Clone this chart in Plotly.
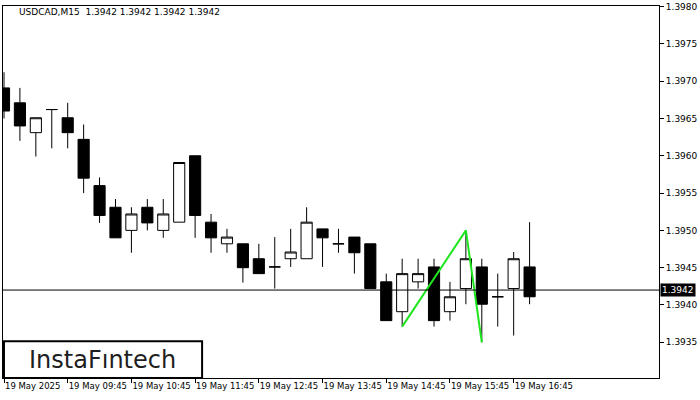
import plotly.graph_objects as go

# ---- data ----
times = ["08:45", "09:00", "09:15", "09:30", "09:45", "10:00", "10:15", "10:30", "10:45",
         "11:00", "11:15", "11:30", "11:45", "12:00", "12:15", "12:30", "12:45",
         "13:00", "13:15", "13:30", "13:45", "14:00", "14:15", "14:30", "14:45",
         "15:00", "15:15", "15:30", "15:45", "16:00", "16:15", "16:30", "16:45", "17:00"]
opens = [1.39691, 1.39671, 1.39631, 1.39662, 1.39651, 1.39622, 1.39560, 1.39531, 1.39500,
         1.39531, 1.39500, 1.39511, 1.39600, 1.39511, 1.39482, 1.39482, 1.39462,
         1.39451, 1.39462, 1.39462, 1.39502, 1.39482, 1.39491, 1.39482, 1.39431,
         1.39391, 1.39431, 1.39451, 1.39391, 1.39422, 1.39451, 1.39411, 1.39422, 1.39451]
highs = [1.39712, 1.39691, 1.39651, 1.39662, 1.39671, 1.39642, 1.39571, 1.39542, 1.39531,
         1.39542, 1.39542, 1.39591, 1.39600, 1.39522, 1.39502, 1.39482, 1.39482,
         1.39491, 1.39502, 1.39531, 1.39502, 1.39502, 1.39491, 1.39482, 1.39442,
         1.39462, 1.39462, 1.39462, 1.39431, 1.39500, 1.39462, 1.39442, 1.39471, 1.39511]
lows = [1.39650, 1.39620, 1.39599, 1.39610, 1.39610, 1.39550, 1.39510, 1.39490, 1.39470,
        1.39500, 1.39490, 1.39511, 1.39490, 1.39470, 1.39470, 1.39430, 1.39442,
        1.39422, 1.39451, 1.39462, 1.39451, 1.39470, 1.39442, 1.39422, 1.39379,
        1.39371, 1.39422, 1.39371, 1.39379, 1.39401, 1.39350, 1.39371, 1.39359, 1.39401]
closes = [1.39660, 1.39640, 1.39651, 1.39662, 1.39631, 1.39570, 1.39520, 1.39490, 1.39522,
          1.39510, 1.39522, 1.39591, 1.39520, 1.39490, 1.39491, 1.39450, 1.39442,
          1.39451, 1.39471, 1.39511, 1.39490, 1.39482, 1.39470, 1.39422, 1.39379,
          1.39442, 1.39442, 1.39379, 1.39411, 1.39462, 1.39401, 1.39411, 1.39462, 1.39411]

tick_idx = [0, 4, 8, 12, 16, 20, 24, 28, 32]
tick_labels = ["19 May 2025", "19 May 09:45", "19 May 10:45", "19 May 11:45", "19 May 12:45",
               "19 May 13:45", "19 May 14:45", "19 May 15:45", "19 May 16:45"]
y_ticks = [1.3935, 1.3940, 1.3945, 1.3950, 1.3955, 1.3960, 1.3965, 1.3970, 1.3975, 1.3980]

pattern_idx = [25, 29, 30]
pattern_price = [1.39371, 1.39500, 1.39350]

bid_price = 1.3942
title_text = "USDCAD,M15  1.3942 1.3942 1.3942 1.3942"
logo_text = "InstaFıntech"

x_idx = list(range(len(times)))

fig = go.Figure()
fig.add_trace(go.Candlestick(
    x=x_idx, open=opens, high=highs, low=lows, close=closes,
    increasing=dict(line=dict(color="black", width=1), fillcolor="white"),
    decreasing=dict(line=dict(color="black", width=1), fillcolor="black"),
    whiskerwidth=0, hoverinfo="skip", showlegend=False,
))
fig.add_trace(go.Scatter(
    x=pattern_idx, y=pattern_price, mode="lines",
    line=dict(color="#1ee61e", width=2), hoverinfo="skip", showlegend=False,
))

fig.add_shape(type="line", xref="paper", x0=0, x1=1, yref="y", y0=bid_price, y1=bid_price,
              line=dict(color="black", width=1), layer="above")

fig.add_annotation(xref="paper", x=1, yref="y", y=bid_price, text="{:.4f}".format(bid_price),
                   showarrow=False, xanchor="left", yanchor="middle", xshift=1,
                   bgcolor="black", borderpad=1,
                   font=dict(family="DejaVu Sans", size=9, color="white"))

fig.add_annotation(xref="paper", x=0, yref="paper", y=1, text=title_text, showarrow=False,
                   xanchor="left", yanchor="top", xshift=14, yshift=1,
                   font=dict(family="DejaVu Sans", size=9, color="black"))

# logo box
fig.add_shape(type="rect", xref="paper", yref="paper", x0=0.0015, x1=0.3035, y0=0.0, y1=0.099,
              line=dict(color="black", width=2), fillcolor="white", layer="above")
fig.add_annotation(xref="paper", yref="paper", x=0.152, y=0.0495, text=logo_text,
                   showarrow=False, xanchor="center", yanchor="middle",
                   font=dict(family="DejaVu Sans", size=24, color="#1e1e1e"))

fig.update_layout(
    width=700, height=400,
    margin=dict(l=2, r=39, t=4, b=22),
    paper_bgcolor="white", plot_bgcolor="white",
    boxgap=0.3, boxgroupgap=0,
    xaxis=dict(
        range=[-0.0625, 41.125], rangeslider=dict(visible=False),
        tickmode="array", tickvals=tick_idx, ticktext=tick_labels, tickangle=0,
        ticks="outside", ticklen=4, tickcolor="black", ticklabelposition="outside right",
        showgrid=False, zeroline=False, showline=True, linecolor="black", linewidth=1, mirror=True,
        tickfont=dict(family="DejaVu Sans", size=8.5, color="black"),
    ),
    yaxis=dict(
        side="right", range=[1.393021, 1.398008],
        tickmode="array", tickvals=y_ticks, tickformat=".4f", ticklabeloverflow="allow",
        ticks="outside", ticklen=4, tickcolor="black",
        showgrid=False, zeroline=False, showline=True, linecolor="black", linewidth=1, mirror=True,
        tickfont=dict(family="DejaVu Sans", size=9, color="black"),
    ),
    hovermode=False,
)

fig.write_html("out.html", config={"displayModeBar": False, "staticPlot": True},
               post_script="document.body.style.margin='0';document.body.style.overflow='hidden';")
